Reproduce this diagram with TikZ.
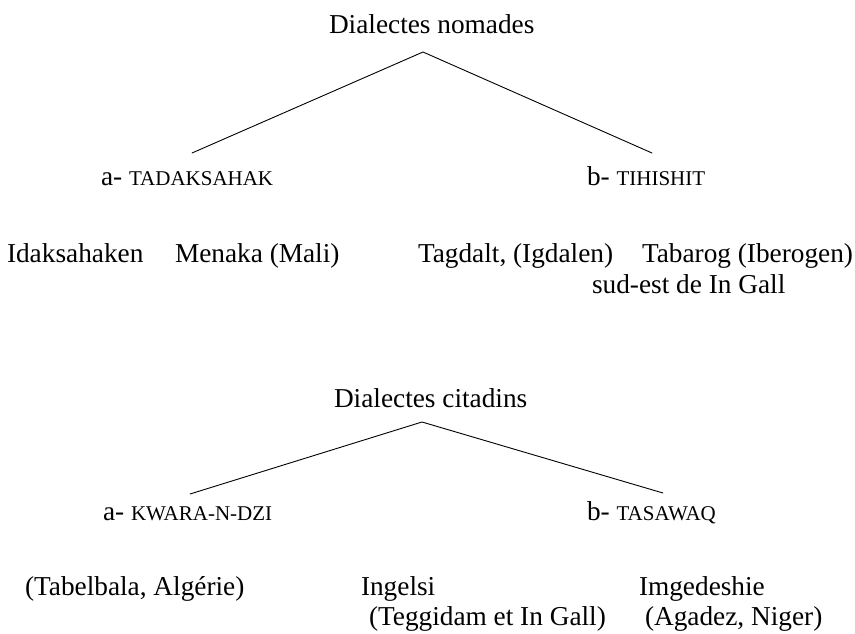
\documentclass[tikz,border=0pt]{standalone}
\usepackage{fontspec}
\setmainfont{Liberation Serif}
\tikzset{
  lbl/.style={anchor=base west, inner sep=0pt, outer sep=0pt, font=\fontsize{27.3}{32}\selectfont},
  branch/.style={line width=0.9pt, line cap=round}
}
\newcommand{\scx}[1]{{\fontsize{21}{25}\selectfont #1}}
\begin{document}
\begin{tikzpicture}[x=1pt,y=-1pt]
\useasboundingbox (0,0) rectangle (855,633);
% top tree
\node[lbl] (nom) at (329,33) {Dialectes nomades};
\node[lbl] (tad) at (101,185) {a- \scx{TADAKSAHAK}};
\node[lbl] (tih) at (587,185) {b- \scx{TIHISHIT}};
\node[lbl] (ida) at (7,262) {Idaksahaken};
\node[lbl] (men) at (175,262) {Menaka (Mali)};
\node[lbl] (tag) at (418,262) {Tagdalt, (Igdalen)};
\node[lbl] (tab) at (642,262) {Tabarog (Iberogen)};
\node[lbl] (sud) at (592,293) {sud-est de In Gall};
\coordinate (apex1) at (423,52);
\coordinate (l1) at (192,153);
\coordinate (r1) at (652,153);
\draw[branch] (l1) -- (apex1) -- (r1);
% bottom tree
\node[lbl] (cit) at (334,407) {Dialectes citadins};
\node[lbl] (kwa) at (103,520) {a- \scx{KWARA-N-DZI}};
\node[lbl] (tas) at (587,520) {b- \scx{TASAWAQ}};
\node[lbl] (tbl) at (25,595) {(Tabelbala, Algérie)};
\node[lbl] (ing) at (361,595) {Ingelsi};
\node[lbl] (img) at (639,595) {Imgedeshie};
\node[lbl] (teg) at (369,625) {(Teggidam et In Gall)};
\node[lbl] (aga) at (645,625) {(Agadez, Niger)};
\coordinate (apex2) at (422,422);
\coordinate (l2) at (190,494);
\coordinate (r2) at (663,493);
\draw[branch] (l2) -- (apex2) -- (r2);
\end{tikzpicture}
\end{document}
